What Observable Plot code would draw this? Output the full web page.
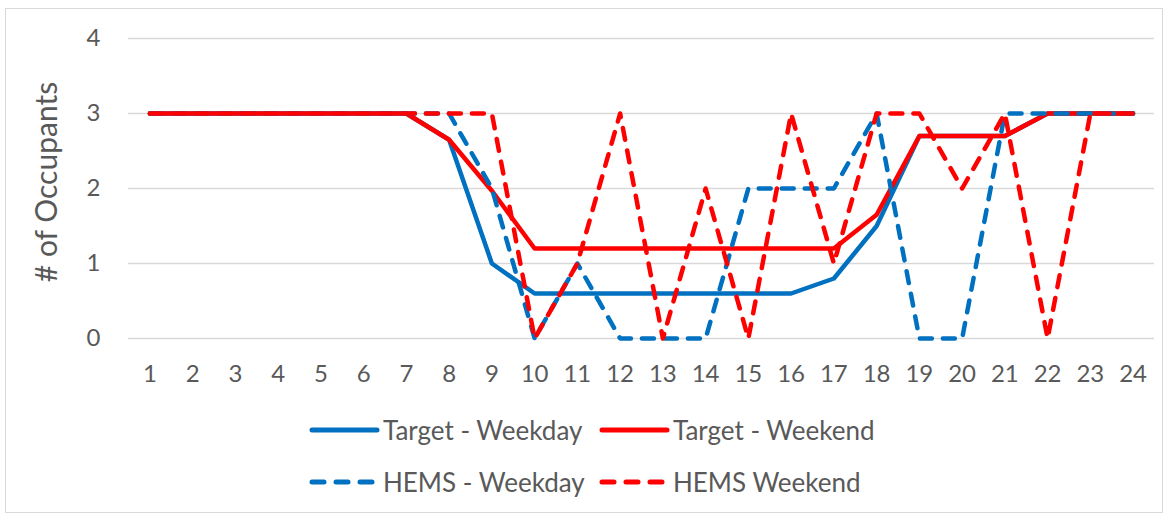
<!DOCTYPE html>
<html>
<head>
<meta charset="utf-8">
<script src="https://cdn.jsdelivr.net/npm/d3@7"></script>
<script src="https://cdn.jsdelivr.net/npm/@observablehq/plot@0.6"></script>
<style>
  html, body { margin: 0; padding: 0; background: #fff; }
  #frame { position: absolute; left: 5px; top: 8px; width: 1158px; height: 505px; border: 1px solid #d9d9d9; box-sizing: border-box; }
  #chart { position: absolute; left: 0; top: 0; }
  #ytitle { position: absolute; left: 45px; top: 182px; transform: translate(-50%, -50%) rotate(-90deg); font-family: Lato, sans-serif; font-size: 30px; color: #595959; white-space: nowrap; line-height: 1; }
  #legend { position: absolute; left: 309px; top: 414px; font-family: Lato, sans-serif; font-size: 26px; color: #595959; display: grid; grid-template-columns: 290px 300px; row-gap: 20px; }
  .item { display: flex; align-items: center; height: 32px; white-space: nowrap; }
  .item svg { margin-right: 2px; }
</style>
</head>
<body>
<div id="frame"></div>
<div id="chart"></div>
<div id="ytitle"></div>
<div id="legend"></div>
<script>
const hours = d3.range(1, 25);
const targetWeekday = [3,3,3,3,3,3,3,2.65,1,0.6,0.6,0.6,0.6,0.6,0.6,0.6,0.8,1.5,2.7,2.7,2.7,3,3,3];
const targetWeekend = [3,3,3,3,3,3,3,2.65,1.97,1.2,1.2,1.2,1.2,1.2,1.2,1.2,1.2,1.65,2.7,2.7,2.7,3,3,3];
const hemsWeekday   = [3,3,3,3,3,3,3,3,2,0,1,0,0,0,2,2,2,3,0,0,3,3,3,3];
const hemsWeekend   = [3,3,3,3,3,3,3,3,3,0,1,3,0,2,0,3,1,3,3,2,3,0,3,3];
const seriesNames = ["Target - Weekday", "Target - Weekend", "HEMS - Weekday", "HEMS Weekend"];
const seriesValues = [targetWeekday, targetWeekend, hemsWeekday, hemsWeekend];
const seriesColors = ["#0070C0", "#FF0000", "#0070C0", "#FF0000"];
const seriesDashed = [false, false, true, true];
const yTicks = [0, 1, 2, 3, 4];
const yTitle = "# of Occupants";

const dash = "12,11";
const marks = [
  Plot.ruleY(yTicks, {stroke: "#d9d9d9", strokeWidth: 1.5})
];
seriesValues.forEach((vals, i) => {
  const data = hours.map((h, j) => ({h, v: vals[j]}));
  marks.push(Plot.line(data, {
    x: "h", y: "v", stroke: seriesColors[i], strokeWidth: 4.5,
    strokeLinecap: "round", strokeLinejoin: "round",
    strokeDasharray: seriesDashed[i] ? dash : null
  }));
});

const chart = Plot.plot({
  width: 1169,
  height: 400,
  marginLeft: 128,
  marginRight: 15,
  marginTop: 38,
  marginBottom: 62,
  style: {fontFamily: "Lato, sans-serif", fontSize: "24px", color: "#595959", background: "transparent", overflow: "visible"},
  x: {domain: [0.5, 24.5], ticks: hours, tickFormat: d => String(d), tickSize: 0, tickPadding: 26, label: null},
  y: {domain: [0, 4], ticks: yTicks, tickFormat: d => String(d), tickSize: 0, tickPadding: 28, label: null},
  marks
});
document.getElementById("chart").appendChild(chart);
document.getElementById("ytitle").textContent = yTitle;

const legend = document.getElementById("legend");
seriesNames.forEach((name, i) => {
  const item = document.createElement("div");
  item.className = "item";
  const dasharr = seriesDashed[i] ? ' stroke-dasharray="12,12"' : '';
  item.innerHTML = `<svg width="72" height="10"><line x1="3" y1="5" x2="68" y2="5" stroke="${seriesColors[i]}" stroke-width="5" stroke-linecap="round"${dasharr}/></svg><span>${name}</span>`;
  legend.appendChild(item);
});
</script>
</body>
</html>
